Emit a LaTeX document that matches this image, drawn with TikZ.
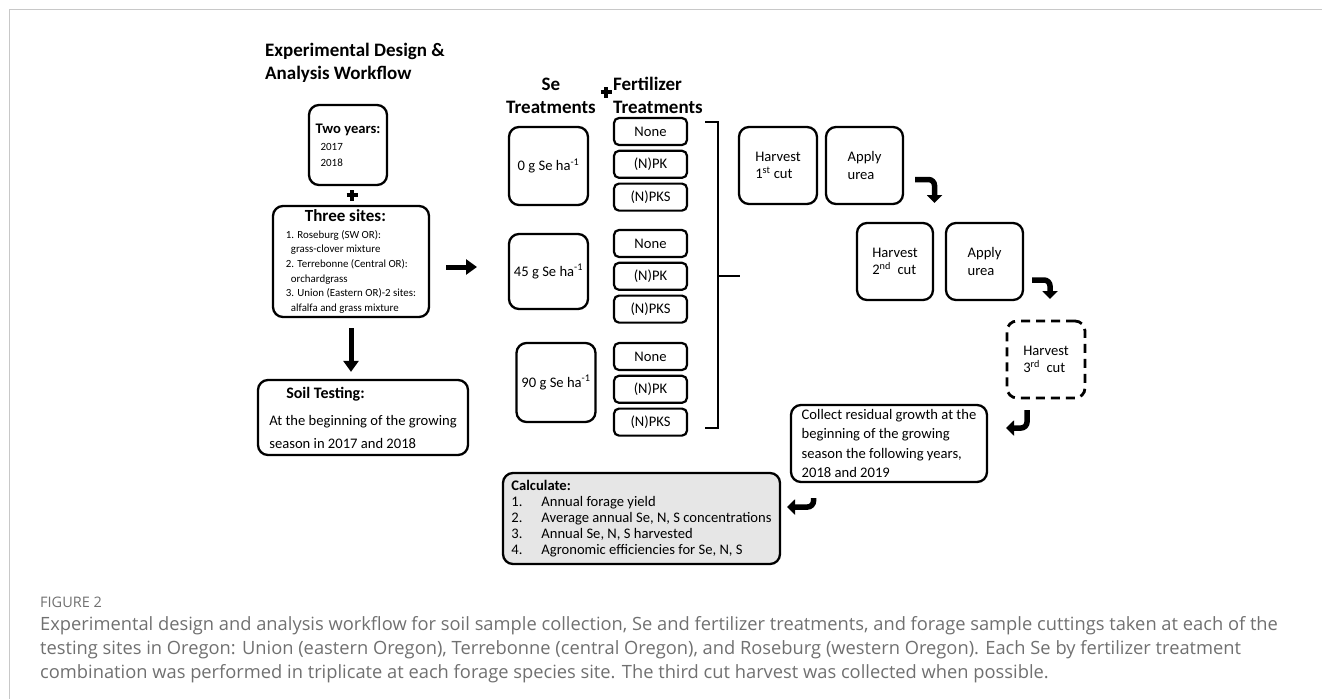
\documentclass[tikz,border=0pt]{standalone}
\usepackage{fontspec}
\setmainfont{Carlito}
\newfontfamily\capfont{Open Sans}
\usetikzlibrary{positioning, arrows.meta}

\definecolor{calcgray}{RGB}{230,230,230}
\definecolor{capgray}{RGB}{112,112,112}
\definecolor{framegray}{RGB}{200,200,200}

\tikzset{
  box/.style={draw, line width=2.3pt, rounded corners=10pt, inner sep=0pt, align=left,
    font=\fontsize{14.6}{17.5}\selectfont},
  fertbox/.style={draw, line width=2.2pt, rounded corners=5pt, inner sep=0pt,
    minimum width=73pt, minimum height=27pt, font=\fontsize{14.6}{17.5}\selectfont},
  headtext/.style={align=left, inner sep=0pt, font=\fontsize{19}{23}\selectfont\bfseries},
  bigarrow/.style={line width=5pt, -{Triangle[width=15pt,length=11pt]}},
  bentarrow/.style={line width=5.5pt, rounded corners=6pt, -{Triangle[width=15pt,length=8pt]}},
  bracket/.style={line width=2.4pt},
  plussign/.pic={\draw[line width=3.6pt] (-5.5pt,0pt) -- (5.5pt,0pt) (0pt,-5.5pt) -- (0pt,5.5pt);}
}

\begin{document}
\begin{tikzpicture}[x=1pt, y=-1pt, node distance=32.8pt, on grid]
  \useasboundingbox (0,0) rectangle (1322,699);
  \draw[framegray, line width=1pt] (9.5,699) -- (9.5,9.5) -- (1322,9.5);

  % left column
  \node[headtext, anchor=west] (title) at (265,63) {Experimental Design \&\\Analysis Workflow};

  \node[box, minimum width=78pt, minimum height=80pt, font=\fontsize{11}{16}\selectfont] (years) at (348,145)
    {{\fontsize{14.6}{16}\selectfont\bfseries Two years:}\\[1pt]\hspace*{5pt}2017\\\hspace*{5pt}2018};
  \pic at (352,195) {plussign};
  \node[box, minimum width=156pt, minimum height=111pt, font=\fontsize{10.9}{14.6}\selectfont] (sites) at (351,261.5)
    {{\fontsize{17}{19}\selectfont\bfseries\hspace*{19pt}Three sites:}\\[2pt]
     1. Roseburg (SW OR):\\
     \hspace*{5pt}grass-clover mixture\\
     2. Terrebonne (Central OR):\\
     \hspace*{5pt}orchardgrass\\
     3. Union (Eastern OR)-2 sites:\\
     \hspace*{5pt}alfalfa and grass mixture};
  \node[box, minimum width=210pt, minimum height=75pt, font=\fontsize{14.6}{23}\selectfont] (soil) at (363,417.5)
    {{\fontsize{16}{18}\selectfont\bfseries\hspace*{17pt}Soil Testing:}\\[4pt]
     At the beginning of the growing\\season in 2017 and 2018};

  \draw[bigarrow, shorten <=10pt, shorten >=7pt] (sites.south) -- (sites.south |- soil.north);
  \draw[bigarrow, shorten <=16pt, shorten >=32pt] ([yshift=-5.5pt]sites.east) -- ([yshift=-5.5pt]sites.east -| soil.east -| 509,0);

  % treatments
  \node[headtext, align=center] (sehead) at (551,95.5) {Se\\Treatments};
  \pic at (606,92) {plussign};
  \node[headtext, anchor=west] (ferthead) at (613,95.5) {Fertilizer\\Treatments};

  \node[box, align=center, minimum width=79pt, minimum height=78pt] (se0) at (548.5,166) {0 g Se ha\textsuperscript{-1}};
  \node[box, align=center, minimum width=79pt, minimum height=75pt] (se45) at (548.5,271.5) {45 g Se ha\textsuperscript{-1}};
  \node[box, align=center, minimum width=79pt, minimum height=79pt] (se90) at (556,382.5) {90 g Se ha\textsuperscript{-1}};

  \node[fertbox] (f0none) at (650.5,131.5) {None};
  \node[fertbox] (f0pk) [below=of f0none] {(N)PK};
  \node[fertbox] (f0pks) [below=of f0pk] {(N)PKS};
  \node[fertbox] (f45none) at (650.5,243.5) {None};
  \node[fertbox] (f45pk) [below=of f45none] {(N)PK};
  \node[fertbox] (f45pks) [below=of f45pk] {(N)PKS};
  \node[fertbox] (f90none) at (650.5,356.5) {None};
  \node[fertbox] (f90pk) [below=of f90none] {(N)PK};
  \node[fertbox] (f90pks) [below=of f90pk] {(N)PKS};

  \draw[bracket] (705,122) -| (718,428) -- (705,428);
  \draw[bracket] (718,276) -- (740,276);

  % harvests
  \node[box, minimum width=78pt, minimum height=77pt] (harv1) at (778,165.5) {Harvest\\1\textsuperscript{st} cut};
  \node[box, minimum width=77pt, minimum height=77pt] (urea1) [right=86.5pt of harv1] {Apply\\urea};
  \node[box, minimum width=76pt, minimum height=77pt] (harv2) at (895,261.5) {Harvest\\2\textsuperscript{nd}\ \ cut};
  \node[box, minimum width=77pt, minimum height=77pt] (urea2) [right=89.5pt of harv2] {Apply\\urea};
  \node[box, dash pattern=on 9pt off 6pt, line width=2.8pt, minimum width=78pt, minimum height=77pt] (harv3) at (1046,359.5)
    {Harvest\\3\textsuperscript{rd}\ \ cut};
  \node[box, minimum width=196pt, minimum height=77pt, font=\fontsize{14.6}{19.5}\selectfont] (resid) at (889,443.5)
    {Collect residual growth at the\\beginning of the growing\\season the following years,\\2018 and 2019};
  \node[box, fill=calcgray, minimum width=277pt, minimum height=91pt, font=\fontsize{14.6}{16}\selectfont] (calc) at (641.5,518.5)
    {\textbf{Calculate:}\\
     \makebox[30pt][l]{1.}Annual forage yield\\
     \makebox[30pt][l]{2.}Average annual Se, N, S concentrations\\
     \makebox[30pt][l]{3.}Annual Se, N, S harvested\\
     \makebox[30pt][l]{4.}Agronomic efficiencies for Se, N, S};

  \coordinate (b1s) at (915,179.5);
  \coordinate (b1e) at (934.5,203);
  \coordinate (b2s) at (1032,280);
  \coordinate (b2e) at (1050,299);
  \coordinate (b3s) at (1027,410);
  \coordinate (b3e) at (1006,428);
  \coordinate (b4s) at (813.5,498);
  \coordinate (b4e) at (787,507);
  \draw[bentarrow] (b1s) -| (b1e);
  \draw[bentarrow] (b2s) -| (b2e);
  \draw[bentarrow] (b3s) |- (b3e);
  \draw[bentarrow] (b4s) |- (b4e);

  % caption
  \node[anchor=west, inner sep=0pt, text=capgray, font=\capfont\fontsize{14.5}{16}\selectfont] (fig) at (40,602) {FIGURE 2};
  \node[anchor=west, inner sep=0pt, align=left, text=capgray, font=\capfont\fontsize{18.3}{24}\selectfont] (caption) at (40,650)
    {Experimental design and analysis workflow for soil sample collection, Se and fertilizer treatments, and forage sample cuttings taken at each of the\\
     testing sites in Oregon: Union (eastern Oregon), Terrebonne (central Oregon), and Roseburg (western Oregon). Each Se by fertilizer treatment\\
     combination was performed in triplicate at each forage species site. The third cut harvest was collected when possible.};
\end{tikzpicture}
\end{document}
